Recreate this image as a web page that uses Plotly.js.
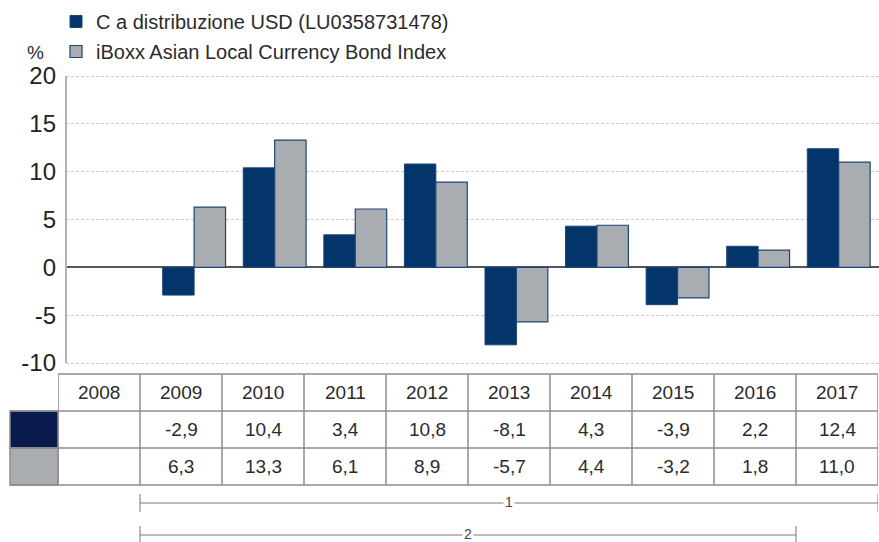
<!DOCTYPE html>
<html>
<head>
<meta charset="utf-8">
<script src="https://cdn.plot.ly/plotly-3.0.1.min.js"></script>
<style>
  html, body { margin: 0; padding: 0; background: #fff; }
  #chart { width: 879px; height: 542px; }
</style>
</head>
<body>
<div id="chart"></div>
<script>
// data
const years = ['2008', '2009', '2010', '2011', '2012', '2013', '2014', '2015', '2016', '2017'];
const fundValues = [null, -2.9, 10.4, 3.4, 10.8, -8.1, 4.3, -3.9, 2.2, 12.4];
const indexValues = [null, 6.3, 13.3, 6.1, 8.9, -5.7, 4.4, -3.2, 1.8, 11.0];
const fundName = 'C a distribuzione USD (LU0358731478)';
const indexName = 'iBoxx Asian Local Currency Bond Index';
const yTicks = [-10, -5, 0, 5, 10, 15, 20];
const periodLabels = ['1', '2'];
const periodStarts = ['2009', '2009'];
const periodEnds = ['2017', '2016'];

const W = 879, H = 542;
const navy = '#03356b';
const navyDark = '#0a1c4e';
const grey = '#a9adb1';
const gridCol = '#8c8c8c';
const textCol = '#2b2b2b';
const font = 'Liberation Sans, Arial, sans-serif';

// pixel helpers (margins are zero so paper == whole figure)
const px = x => x / W;
const py = y => 1 - y / H;

const fmt = v => v === null ? '' : v.toFixed(1).replace('.', ',');

const traces = [
    {
        x: years, y: fundValues, type: 'bar', name: fundName,
        xaxis: 'x', yaxis: 'y', legendgroup: 'a',
        marker: { color: navy, line: { color: '#1d4575', width: 1 } },
        hoverinfo: 'x+y'
    },
    {
        x: years, y: indexValues, type: 'bar', name: indexName,
        xaxis: 'x', yaxis: 'y', legendgroup: 'b',
        marker: { color: grey, line: { color: '#1d4575', width: 1.2 } },
        hoverinfo: 'x+y'
    }
];

// table below the plot, on its own hidden axis (index positions)
const tableTop = 374, rowH = 37;
const shapes = [];
const annotations = [];
const line = { color: gridCol, width: 1.5 };

// y axis line, only between the first and last tick
shapes.push({ type: 'line', xref: 'paper', yref: 'y', x0: px(66), x1: px(66),
    y0: yTicks[0], y1: yTicks[yTicks.length - 1], line: { color: '#b3b3b3', width: 2 } });

// horizontal rules
shapes.push({ type: 'line', xref: 'x2', yref: 'paper', x0: -0.5, x1: 9.5, y0: py(tableTop), y1: py(tableTop), line });
for (let r = 1; r <= 3; r++) {
    const y = py(tableTop + r * rowH);
    shapes.push({ type: 'line', xref: 'paper', yref: 'paper', x0: px(10), x1: px(58), y0: y, y1: y, line });
    shapes.push({ type: 'line', xref: 'x2', yref: 'paper', x0: -0.5, x1: 9.5, y0: y, y1: y, line });
}
// vertical rules
for (let i = 0; i <= years.length; i++) {
    shapes.push({ type: 'line', xref: 'x2', yref: 'paper', x0: i - 0.5, x1: i - 0.5,
        y0: py(tableTop), y1: py(tableTop + 3 * rowH), line });
}
// colour swatches in the row headers
[navyDark, grey].forEach((c, r) => {
    shapes.push({ type: 'rect', xref: 'paper', yref: 'paper', layer: 'below',
        x0: px(10), x1: px(58), y0: py(tableTop + (r + 1) * rowH), y1: py(tableTop + (r + 2) * rowH),
        fillcolor: c, line });
});

// table text
years.forEach((yr, i) => {
    const rows = [yr, fmt(fundValues[i]), fmt(indexValues[i])];
    rows.forEach((t, r) => {
        if (!t) return;
        annotations.push({ xref: 'x2', yref: 'paper', x: i, y: py(tableTop + r * rowH + rowH / 2),
            text: t, showarrow: false, xanchor: 'center', yanchor: 'middle',
            font: { family: font, size: 19, color: textCol } });
    });
});

// period brackets
periodLabels.forEach((lab, k) => {
    const yl = 503 + k * 32;
    const a = years.indexOf(periodStarts[k]) - 0.5;
    const b = years.indexOf(periodEnds[k]) + 0.5;
    const bl = { color: '#777', width: 1 };
    shapes.push({ type: 'line', xref: 'x2', yref: 'paper', x0: a, x1: b, y0: py(yl), y1: py(yl), line: bl });
    shapes.push({ type: 'line', xref: 'x2', yref: 'paper', x0: a, x1: a, y0: py(yl - 9), y1: py(yl + 9), line: bl });
    shapes.push({ type: 'line', xref: 'x2', yref: 'paper', x0: b, x1: b, y0: py(yl - 9), y1: py(yl + 9), line: bl });
    annotations.push({ xref: 'x2', yref: 'paper', x: (a + b) / 2, y: py(yl - 1),
        text: lab, showarrow: false, bgcolor: '#fff', borderpad: 1,
        xanchor: 'center', yanchor: 'middle', font: { family: font, size: 14, color: '#444' } });
});

annotations.push({ xref: 'paper', yref: 'paper', x: px(25), y: py(52), text: '%', showarrow: false,
    xanchor: 'left', yanchor: 'middle', font: { family: font, size: 19, color: textCol } });

// plot area: 20 at y=76px, -10 at y=363px -> 9.567 px per unit
const ppu = (363 - 76) / 30;
const pad = 0.6;

const layout = {
    width: W, height: H,
    margin: { l: 0, r: 0, t: 0, b: 0 },
    paper_bgcolor: '#fff', plot_bgcolor: '#fff',
    font: { family: font, color: textCol },
    barmode: 'group', bargap: 0.22, bargroupgap: 0,
    showlegend: true,
    legend: {
        x: px(56), y: py(2), xanchor: 'left', yanchor: 'top',
        traceorder: 'grouped', tracegroupgap: 1,
        font: { family: font, size: 20, color: textCol },
        itemwidth: 30, bgcolor: 'rgba(0,0,0,0)'
    },
    xaxis: {
        type: 'category', anchor: 'y',
        domain: [px(66), 1], range: [-0.59, 9.5],
        showticklabels: false, showgrid: false, zeroline: false, showline: false, ticks: ''
    },
    // hidden helper axes that carry the table columns
    xaxis2: {
        type: 'linear', anchor: 'y2',
        domain: [px(58), px(878)], range: [-0.5, 9.5], visible: false
    },
    yaxis2: {
        anchor: 'x2', domain: [0, 0.01], range: [0, 1], visible: false
    },
    yaxis: {
        anchor: 'x',
        domain: [py(363 + pad * ppu), py(76 - pad * ppu)], range: [-10 - pad, 20 + pad],
        tickvals: yTicks, ticktext: yTicks.map(String),
        showgrid: true, gridcolor: '#c9c9c9', griddash: '3px,2px', gridwidth: 1,
        zeroline: true, zerolinecolor: '#555', zerolinewidth: 1.5,
        showline: false,
        ticks: '', ticklabelstandoff: 9,
        tickfont: { family: font, size: 24, color: '#222' }
    },
    shapes, annotations
};

Plotly.newPlot('chart', traces, layout, { displayModeBar: false, responsive: false });
</script>
</body>
</html>
